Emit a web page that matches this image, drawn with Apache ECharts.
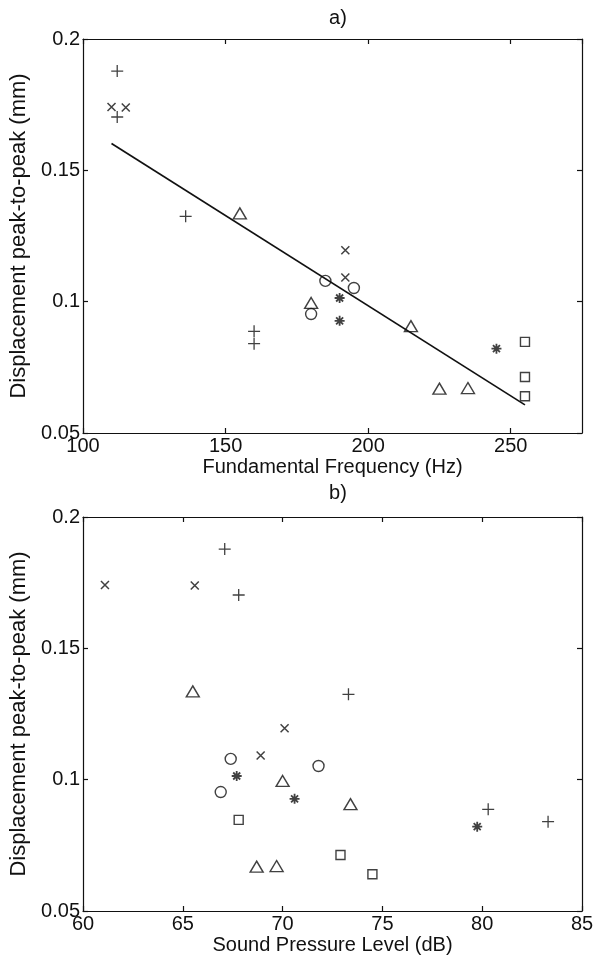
<!DOCTYPE html>
<html><head><meta charset="utf-8">
<script src="https://cdn.jsdelivr.net/npm/echarts@6/dist/echarts.min.js"></script>
<style>html,body{margin:0;padding:0;background:#fff}#c{width:604px;height:957px}</style>
</head><body><div id="c"></div>
<script>
// ---- data ----
// marker "+"
const plusF   = [112, 112, 136, 160, 160];
const plusD   = [0.1878, 0.1703, 0.1325, 0.0887, 0.0840];
const plusSPL = [67.1, 67.8, 73.3, 80.3, 83.3];
// marker "x"
const crossF   = [110, 115, 192, 192];
const crossD   = [0.1741, 0.1739, 0.1196, 0.1092];
const crossSPL = [61.1, 65.6, 70.1, 68.9];
// marker triangle
const triF   = [155, 180, 215, 225, 235];
const triD   = [0.1336, 0.0995, 0.0907, 0.0669, 0.0671];
const triSPL = [65.5, 70.0, 73.4, 68.7, 69.7];
// marker circle
const circF   = [185, 195, 180];
const circD   = [0.1079, 0.1052, 0.0953];
const circSPL = [67.4, 71.8, 66.9];
// marker asterisk
const starF   = [190, 190, 245];
const starD   = [0.1014, 0.0927, 0.0821];
const starSPL = [67.7, 70.6, 79.75];
// marker square
const sqF   = [255, 255, 255];
const sqD   = [0.0847, 0.0713, 0.0640];
const sqSPL = [67.8, 72.9, 74.5];
// regression line (end points) in panel a
const fitF = [110, 255];
const fitD = [0.1602, 0.0607];

const titleA = 'a)';
const titleB = 'b)';
const xNameA = 'Fundamental Frequency (Hz)';
const xNameB = 'Sound Pressure Level (dB)';
const yName  = 'Displacement peak-to-peak (mm)';

// ---- chart ----
const FONT = '"Liberation Sans", Arial, Helvetica, sans-serif';
const INK = '#111';
const zip = (a, b) => a.map((v, i) => [v, b[i]]);

const groups = [
  {F: plusF,  D: plusD,  S: plusSPL,  symbol: 'path://M0,5L10,5M5,0L5,10', size: 12, bw: 1.3},
  {F: crossF, D: crossD, S: crossSPL, symbol: 'path://M0,0L10,10M10,0L0,10', size: 8, bw: 1.5},
  {F: triF,   D: triD,   S: triSPL,   symbol: 'path://M5,0L10,8.66L0,8.66Z', size: [13, 11], bw: 1.4},
  {F: circF,  D: circD,  S: circSPL,  symbol: 'circle', size: 11, bw: 1.4},
  {F: starF,  D: starD,  S: starSPL,  symbol: 'path://M5,0L5,10M0,5L10,5M1.5,1.5L8.5,8.5M8.5,1.5L1.5,8.5', size: 10, bw: 1.8},
  {F: sqF,    D: sqD,    S: sqSPL,    symbol: 'rect', size: 9, bw: 1.4}
];

const series = [];
groups.forEach(g => {
  const common = {
    type: 'scatter', symbol: g.symbol, symbolSize: g.size,
    itemStyle: {color: 'transparent', borderColor: INK, borderWidth: g.bw},
    emphasis: {disabled: true}, silent: true
  };
  series.push(Object.assign({}, common, {xAxisIndex: 0, yAxisIndex: 0, data: zip(g.F, g.D)}));
  series.push(Object.assign({}, common, {xAxisIndex: 2, yAxisIndex: 2, data: zip(g.S, g.D)}));
});
series.push({
  type: 'line', xAxisIndex: 0, yAxisIndex: 0, data: zip(fitF, fitD),
  symbol: 'none', lineStyle: {color: INK, width: 1.7}, silent: true
});

const tickIn = {show: true, inside: true, length: 5, lineStyle: {color: INK, width: 1.2}};
const lineStyle = {show: true, lineStyle: {color: INK, width: 1.2}};
const labelStyle = {color: INK, fontSize: 20, fontFamily: FONT};
const xNameStyle = {color: INK, fontSize: 20, fontFamily: FONT};
const yNameStyle = {color: INK, fontSize: 22, fontFamily: FONT};

function xPair(grid, min, max, interval, name, hideMax) {
  return [
    {type: 'value', gridIndex: grid, position: 'bottom', min, max, interval,
     axisLine: lineStyle, axisTick: tickIn, splitLine: {show: false},
     axisLabel: Object.assign({margin: 3, showMaxLabel: !hideMax, showMinLabel: true}, labelStyle),
     name, nameLocation: 'middle', nameGap: 24, nameTextStyle: xNameStyle},
    {type: 'value', gridIndex: grid, position: 'top', min, max, interval,
     axisLine: lineStyle, axisTick: tickIn, splitLine: {show: false}, axisLabel: {show: false}}
  ];
}
function yPair(grid) {
  return [
    {type: 'value', gridIndex: grid, position: 'left', min: 0.05, max: 0.2, interval: 0.05,
     axisLine: lineStyle, axisTick: tickIn, splitLine: {show: false},
     axisLabel: Object.assign({margin: 3}, labelStyle),
     name: yName, nameLocation: 'middle', nameGap: 50, nameRotate: 90, nameTextStyle: yNameStyle},
    {type: 'value', gridIndex: grid, position: 'right', min: 0.05, max: 0.2, interval: 0.05,
     axisLine: lineStyle, axisTick: tickIn, splitLine: {show: false}, axisLabel: {show: false}}
  ];
}

const chart = echarts.init(document.getElementById('c'), null, {renderer: 'canvas'});
chart.setOption({
  animation: false,
  backgroundColor: '#fff',
  textStyle: {fontFamily: FONT},
  title: [
    {text: titleA, left: 333, top: 3, textAlign: 'center', textStyle: {fontSize: 20, fontWeight: 'normal', color: INK, fontFamily: FONT}},
    {text: titleB, left: 333, top: 478, textAlign: 'center', textStyle: {fontSize: 20, fontWeight: 'normal', color: INK, fontFamily: FONT}}
  ],
  grid: [
    {left: 83, width: 499, top: 39, height: 394},
    {left: 83, width: 499, top: 517, height: 394}
  ],
  xAxis: [].concat(xPair(0, 100, 275, 50, xNameA, true), xPair(1, 60, 85, 5, xNameB, false)),
  yAxis: [].concat(yPair(0), yPair(1)),
  series
});
</script>
</body></html>
